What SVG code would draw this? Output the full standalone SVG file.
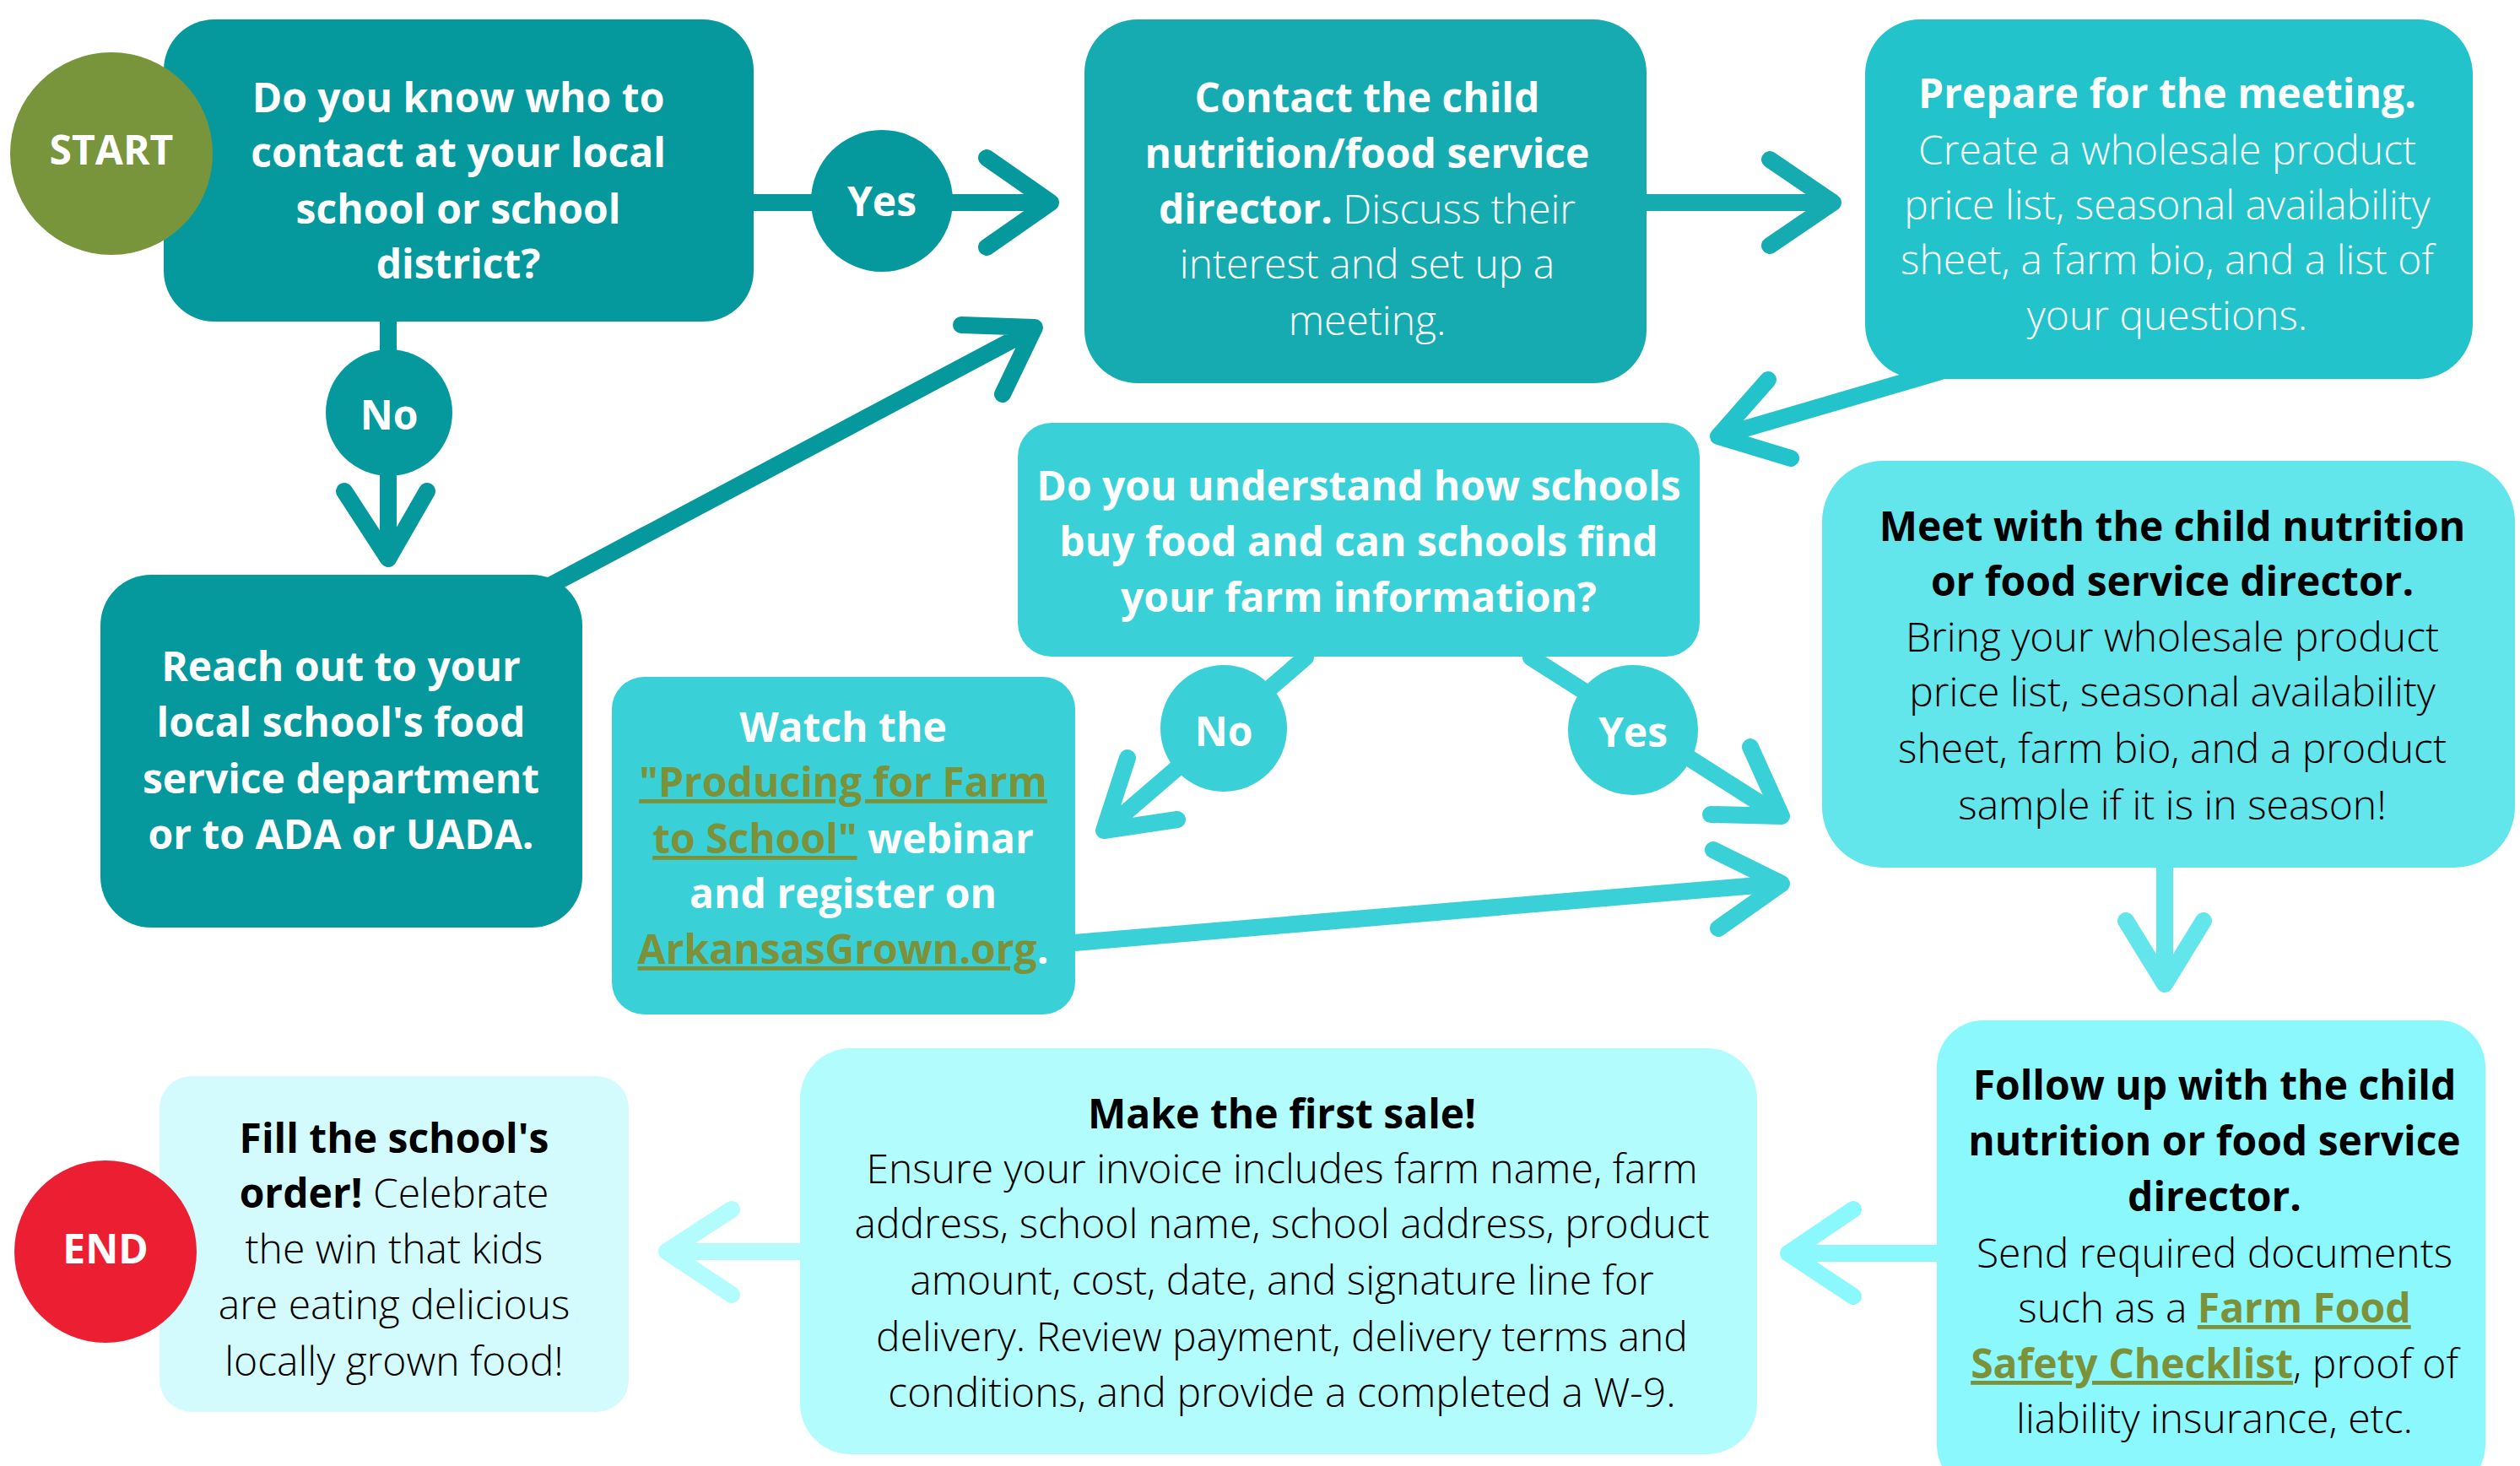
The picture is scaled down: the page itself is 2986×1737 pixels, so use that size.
<svg xmlns="http://www.w3.org/2000/svg" width="2986" height="1737" viewBox="0 0 2986 1737">
<style>
text{font-family:"Open Sans","Noto Sans","Liberation Sans",sans-serif;font-size:48px;text-anchor:middle}
.b{font-weight:700}
.l{font-weight:300}
.w{fill:#ffffff}
.k{fill:#000000}
.lnk{fill:#7B923A;font-weight:700;text-decoration:underline}
.c{fill:none;stroke-linecap:round;stroke-linejoin:round;stroke-width:20}
.c1{stroke:#05999E}.c2{stroke:#15ABB1}.c3{stroke:#22C3CA}.c4{stroke:#3AD0D7}
.c5{stroke:#63E6EB}.c6{stroke:#8AF8FC}.c7{stroke:#B2FCFE}
</style>
<rect width="2986" height="1737" fill="#ffffff"/>
<g id="connectors">
  <path class="c c1" d="M893 240H1245M1169 187L1245 240L1169 293"/>
  <path class="c c1" d="M460 381V660M408 582L460 662L506 582"/>
  <path class="c c1" d="M640 700L1224 390M1139 385L1226 388L1188 467"/>
  <path class="c c2" d="M1951 240H2170M2097 189L2172 240L2097 291"/>
  <path class="c c3" d="M2300 440L2040 516M2095 450L2036 517L2122 543"/>
  <path class="c c4" d="M1547 779L1310 983M1336 898L1308 984L1395 971"/>
  <path class="c c4" d="M1814 779L2108 966M2074 885L2111 967L2027 965"/>
  <path class="c c4" d="M1273 1117L2106 1047M2030 1007L2111 1047L2036 1100"/>
  <path class="c c5" d="M2565 1028V1164M2519 1091L2565 1166L2611 1091"/>
  <path class="c c6" d="M2295 1485H2122M2196 1433L2119 1485L2196 1536"/>
  <path class="c c7" d="M948 1483H792M867 1433L790 1483L867 1534"/>
</g>
<g id="q1">
  <rect x="194" y="23" width="699" height="358" rx="60" fill="#05999E"/>
  <text class="b w"><tspan x="543" y="133">Do you know who to</tspan><tspan x="543" y="198">contact at your local</tspan><tspan x="543" y="265">school or school</tspan><tspan x="543" y="330">district?</tspan></text>
</g>
<g id="start">
  <circle cx="132" cy="182" r="120" fill="#78953B"/>
  <text class="b w" x="132" y="195">START</text>
</g>
<g id="contact">
  <rect x="1285" y="23" width="666" height="431" rx="63" fill="#15ABB1"/>
  <text class="w"><tspan class="b" x="1620" y="133">Contact the child</tspan><tspan class="b" x="1620" y="199">nutrition/food service</tspan><tspan x="1620" y="265"><tspan class="b">director.</tspan><tspan class="l"> Discuss their</tspan></tspan><tspan class="l" x="1620" y="330">interest and set up a</tspan><tspan class="l" x="1620" y="397">meeting.</tspan></text>
</g>
<g id="prepare">
  <rect x="2210" y="23" width="720" height="426" rx="65" fill="#22C3CA"/>
  <text class="w"><tspan class="b" x="2568" y="128">Prepare for the meeting.</tspan><tspan class="l" x="2568" y="195">Create a wholesale product</tspan><tspan class="l" x="2568" y="260">price list, seasonal availability</tspan><tspan class="l" x="2568" y="325">sheet, a farm bio, and a list of</tspan><tspan class="l" x="2568" y="391">your questions.</tspan></text>
</g>
<g id="q2">
  <rect x="1206" y="501" width="808" height="277" rx="40" fill="#3AD0D7"/>
  <text class="b w"><tspan x="1610" y="593">Do you understand how schools</tspan><tspan x="1610" y="659">buy food and can schools find</tspan><tspan x="1610" y="725">your farm information?</tspan></text>
</g>
<g id="meet">
  <rect x="2159" y="546" width="821" height="482" rx="72" fill="#63E6EB"/>
  <text class="k"><tspan class="b" x="2574" y="641">Meet with the child nutrition</tspan><tspan class="b" x="2574" y="706">or food service director.</tspan><tspan class="l" x="2574" y="772">Bring your wholesale product</tspan><tspan class="l" x="2574" y="837">price list, seasonal availability</tspan><tspan class="l" x="2574" y="904">sheet, farm bio, and a product</tspan><tspan class="l" x="2574" y="971">sample if it is in season!</tspan></text>
</g>
<g id="followup">
  <rect x="2295" y="1209" width="650" height="558" rx="55" fill="#8AF8FC"/>
  <text class="k"><tspan class="b" x="2624" y="1303">Follow up with the child</tspan><tspan class="b" x="2624" y="1369">nutrition or food service</tspan><tspan class="b" x="2624" y="1435">director.</tspan><tspan class="l" x="2624" y="1502">Send required documents</tspan><tspan x="2624" y="1567"><tspan class="l">such as a </tspan><tspan class="lnk">Farm Food</tspan></tspan><tspan x="2624" y="1633"><tspan class="lnk">Safety Checklist</tspan><tspan class="l">, proof of</tspan></tspan><tspan class="l" x="2624" y="1698">liability insurance, etc.</tspan></text>
</g>
<g id="sale">
  <rect x="948" y="1242" width="1134" height="481" rx="60" fill="#B2FCFE"/>
  <text class="k"><tspan class="b" x="1519" y="1337">Make the first sale!</tspan><tspan class="l" x="1519" y="1402">Ensure your invoice includes farm name, farm</tspan><tspan class="l" x="1519" y="1467">address, school name, school address, product</tspan><tspan class="l" x="1519" y="1534">amount, cost, date, and signature line for</tspan><tspan class="l" x="1519" y="1601">delivery. Review payment, delivery terms and</tspan><tspan class="l" x="1519" y="1667">conditions, and provide a completed a W-9.</tspan></text>
</g>
<g id="fill">
  <rect x="189" y="1275" width="556" height="398" rx="38" fill="#D3FBFD"/>
  <text class="k"><tspan class="b" x="467" y="1366">Fill the school's</tspan><tspan x="467" y="1431"><tspan class="b">order!</tspan><tspan class="l"> Celebrate</tspan></tspan><tspan class="l" x="467" y="1497">the win that kids</tspan><tspan class="l" x="467" y="1563">are eating delicious</tspan><tspan class="l" x="467" y="1630">locally grown food!</tspan></text>
</g>
<g id="end">
  <circle cx="125" cy="1483" r="108" fill="#EC1F32"/>
  <text class="b w" x="125" y="1497">END</text>
</g>
<g id="reach">
  <rect x="119" y="681" width="571" height="418" rx="60" fill="#05999E"/>
  <text class="b w"><tspan x="404" y="807">Reach out to your</tspan><tspan x="404" y="873">local school's food</tspan><tspan x="404" y="940">service department</tspan><tspan x="404" y="1006">or to ADA or UADA.</tspan></text>
</g>
<g id="watch">
  <rect x="725" y="802" width="549" height="400" rx="38" fill="#3AD0D7"/>
  <text class="b w"><tspan x="999" y="879">Watch the</tspan><tspan class="lnk" x="999" y="944">"Producing for Farm</tspan><tspan x="999" y="1011"><tspan class="lnk">to School"</tspan><tspan> webinar</tspan></tspan><tspan x="999" y="1076">and register on</tspan><tspan x="999" y="1142"><tspan class="lnk">ArkansasGrown.org</tspan><tspan>.</tspan></tspan></text>
</g>
<g id="yes1">
  <circle cx="1045" cy="238" r="84" fill="#05999E"/>
  <text class="b w" x="1045" y="256">Yes</text>
</g>
<g id="no1">
  <circle cx="461" cy="489" r="75" fill="#05999E"/>
  <text class="b w" x="461" y="509">No</text>
</g>
<g id="no2">
  <circle cx="1450" cy="863" r="75" fill="#3AD0D7"/>
  <text class="b w" x="1450" y="884">No</text>
</g>
<g id="yes2">
  <circle cx="1935" cy="865" r="77" fill="#3AD0D7"/>
  <text class="b w" x="1935" y="885">Yes</text>
</g>
</svg>
